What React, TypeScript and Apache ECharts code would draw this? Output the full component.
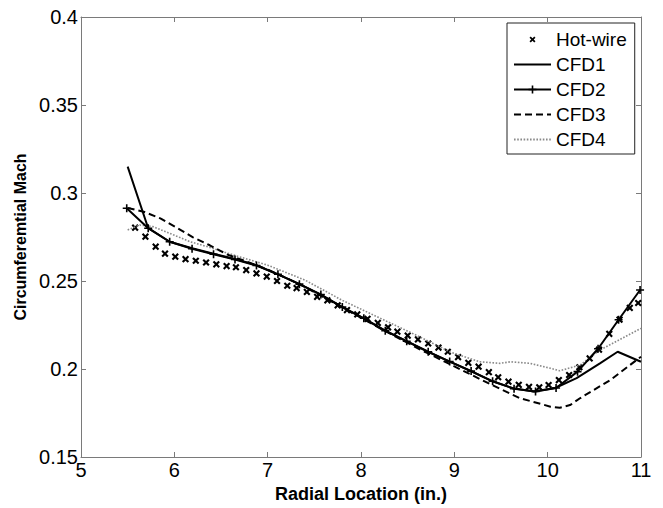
import React, { useEffect, useRef } from "react";
import * as echarts from "echarts";

const xTicks = [5, 6, 7, 8, 9, 10, 11];

const hotwireX = [5.58, 5.69, 5.8, 5.9, 6.01, 6.12, 6.23, 6.34, 6.45, 6.56, 6.66, 6.77, 6.88, 6.99, 7.1, 7.21, 7.31, 7.42, 7.53, 7.64, 7.75, 7.85, 7.96, 8.07, 8.18, 8.29, 8.39, 8.5, 8.61, 8.72, 8.83, 8.93, 9.04, 9.15, 9.26, 9.37, 9.47, 9.58, 9.69, 9.8, 9.91, 10.01, 10.12, 10.23, 10.34, 10.45, 10.55, 10.66, 10.77, 10.88, 10.97];
const hotwireY = [0.2803, 0.2752, 0.2695, 0.2655, 0.2638, 0.2624, 0.2615, 0.2605, 0.2595, 0.2585, 0.2578, 0.2562, 0.2543, 0.2525, 0.25, 0.2473, 0.246, 0.2438, 0.241, 0.239, 0.2362, 0.2335, 0.231, 0.2285, 0.2262, 0.2237, 0.2212, 0.219, 0.2168, 0.2145, 0.2122, 0.2098, 0.2068, 0.2035, 0.2013, 0.1982, 0.1953, 0.1928, 0.191, 0.1898, 0.1896, 0.1909, 0.1937, 0.1966, 0.201, 0.206, 0.211, 0.22, 0.228, 0.2347, 0.2375];

const cfd1X = [5.5, 5.72, 5.95, 6.19, 6.42, 6.65, 6.88, 7.1, 7.33, 7.56, 7.79, 8.02, 8.25, 8.48, 8.71, 8.94, 9.17, 9.4, 9.63, 9.85, 10.08, 10.31, 10.56, 10.75, 11.0];
const cfd1Y = [0.315, 0.28, 0.2723, 0.2686, 0.2655, 0.2625, 0.259, 0.254, 0.2485, 0.2425, 0.2355, 0.229, 0.222, 0.216, 0.21, 0.2045, 0.199, 0.1932, 0.189, 0.1872, 0.1892, 0.1948, 0.2032, 0.2098, 0.2041];

const cfd2X = [5.49, 5.72, 5.95, 6.19, 6.42, 6.65, 6.88, 7.11, 7.34, 7.57, 7.8, 8.03, 8.26, 8.49, 8.72, 8.95, 9.18, 9.41, 9.64, 9.87, 10.09, 10.32, 10.54, 10.76, 10.99];
const cfd2Y = [0.2913, 0.28, 0.2723, 0.2683, 0.2652, 0.2622, 0.2588, 0.2538, 0.2482, 0.2423, 0.2352, 0.2288, 0.2218, 0.2158, 0.2098, 0.2042, 0.1988, 0.193, 0.1888, 0.1872, 0.1892, 0.1985, 0.2115, 0.228, 0.2449];

const cfd3X = [5.5, 5.67, 5.85, 6.02, 6.2, 6.38, 6.56, 6.8, 7.0, 7.35, 7.8, 8.2, 8.63, 9.0, 9.38, 9.7, 10.03, 10.13, 10.24, 10.35, 10.67, 11.0];
const cfd3Y = [0.2915, 0.2894, 0.2856, 0.2805, 0.2748, 0.2703, 0.2652, 0.2605, 0.2565, 0.248, 0.235, 0.2232, 0.2112, 0.2015, 0.1915, 0.1835, 0.1786, 0.178, 0.1795, 0.1835, 0.1937, 0.207];

const cfd4X = [5.5, 5.63, 5.77, 5.95, 6.17, 6.38, 6.63, 7.0, 7.4, 7.8, 8.2, 8.6, 8.95, 9.27, 9.49, 9.6, 9.81, 10.03, 10.13, 10.35, 10.56, 11.0];
const cfd4Y = [0.279, 0.2818, 0.2809, 0.2771, 0.2723, 0.2691, 0.2648, 0.259, 0.2505, 0.239, 0.229, 0.219, 0.2098, 0.2041, 0.2032, 0.2041, 0.2032, 0.2004, 0.199, 0.2023, 0.2108, 0.2231];

const zip = (xs: number[], ys: number[]) => xs.map((x, i) => [x, ys[i]]);

const X_SYMBOL =
  "path://M-10,-10 L-10,-10 Z M10,10 L10,10 Z M-6,-3.5 L-3.5,-6 L0,-2.5 L3.5,-6 L6,-3.5 L2.5,0 L6,3.5 L3.5,6 L0,2.5 L-3.5,6 L-6,3.5 L-2.5,0 Z";
const PLUS_SYMBOL =
  "path://M-1,-5 L1,-5 L1,-1 L5,-1 L5,1 L1,1 L1,5 L-1,5 L-1,1 L-5,1 L-5,-1 L-1,-1 Z";

const FONT = "'Liberation Sans', Arial, Helvetica, sans-serif";
const AXIS_GRAY = "#7a7a7a";

export default function App() {
  const ref = useRef<HTMLDivElement>(null);
  useEffect(() => {
    if (!ref.current) return;
    const chart = echarts.init(ref.current, null, { renderer: "svg" });
    const hidden = { color: "rgba(0,0,0,0)", opacity: 0 };
    chart.setOption({
      animation: false,
      backgroundColor: "#fff",
      textStyle: { fontFamily: FONT },
      grid: { left: 81, right: 22, top: 17, bottom: 51 },
      legend: {
        orient: "vertical",
        left: 507,
        top: 23,
        align: "left",
        itemWidth: 37,
        itemHeight: 10,
        itemGap: 6,
        padding: [7, 8, 5, 6],
        borderColor: "#222",
        borderWidth: 1,
        backgroundColor: "#fff",
        symbolKeepAspect: true,
        textStyle: { fontSize: 19, color: "#000", fontFamily: FONT, lineHeight: 19 },
        data: [
          { name: "Hot-wire" },
          { name: "CFD1", itemStyle: hidden },
          { name: "CFD2" },
          { name: "CFD3", itemStyle: hidden },
          { name: "CFD4", itemStyle: hidden },
        ],
      },
      xAxis: [
        {
          type: "value",
          min: xTicks[0],
          max: xTicks[xTicks.length - 1],
          interval: 1,
          name: "Radial Location (in.)",
          nameLocation: "middle",
          nameGap: 27,
          nameTextStyle: { fontSize: 18, fontWeight: "bold", color: "#000", fontFamily: FONT },
          axisLine: { show: true, onZero: false, lineStyle: { color: AXIS_GRAY, width: 1 } },
          axisTick: { show: true, inside: true, length: 5, lineStyle: { color: AXIS_GRAY } },
          axisLabel: { fontSize: 20, color: "#000", margin: 3, fontFamily: FONT },
          splitLine: { show: false },
        },
        {
          type: "value",
          position: "top",
          min: xTicks[0],
          max: xTicks[xTicks.length - 1],
          interval: 1,
          axisLine: { show: true, onZero: false, lineStyle: { color: AXIS_GRAY, width: 1 } },
          axisTick: { show: true, inside: true, length: 5, lineStyle: { color: AXIS_GRAY } },
          axisLabel: { show: false },
          splitLine: { show: false },
        },
      ],
      yAxis: [
        {
          type: "value",
          min: 0.15,
          max: 0.4,
          interval: 0.05,
          name: "Circumferemtial Mach",
          nameLocation: "middle",
          nameGap: 52,
          nameTextStyle: { fontSize: 16, fontWeight: "bold", color: "#000", fontFamily: FONT },
          axisLine: { show: true, onZero: false, lineStyle: { color: AXIS_GRAY, width: 1 } },
          axisTick: { show: true, inside: true, length: 5, lineStyle: { color: AXIS_GRAY } },
          axisLabel: { fontSize: 20, color: "#000", margin: 3, fontFamily: FONT },
          splitLine: { show: false },
        },
        {
          type: "value",
          position: "right",
          min: 0.15,
          max: 0.4,
          interval: 0.05,
          axisLine: { show: true, onZero: false, lineStyle: { color: AXIS_GRAY, width: 1 } },
          axisTick: { show: true, inside: true, length: 5, lineStyle: { color: AXIS_GRAY } },
          axisLabel: { show: false },
          splitLine: { show: false },
        },
      ],
      series: [
        {
          name: "CFD4",
          type: "line",
          data: zip(cfd4X, cfd4Y),
          symbol: "none",
          color: "#8a8a8a",
          lineStyle: { color: "#8a8a8a", width: 1.6, type: [1.6, 1.6] },
        },
        {
          name: "CFD3",
          type: "line",
          data: zip(cfd3X, cfd3Y),
          symbol: "none",
          color: "#000",
          lineStyle: { color: "#000", width: 2, type: [7, 4] },
        },
        {
          name: "CFD1",
          type: "line",
          data: zip(cfd1X, cfd1Y),
          symbol: "none",
          color: "#000",
          lineStyle: { color: "#000", width: 2 },
        },
        {
          name: "CFD2",
          type: "line",
          data: zip(cfd2X, cfd2Y),
          symbol: PLUS_SYMBOL,
          symbolSize: 8,
          showAllSymbol: true,
          color: "#000",
          itemStyle: { color: "#000", opacity: 1 },
          lineStyle: { color: "#000", width: 2 },
        },
        {
          name: "Hot-wire",
          type: "scatter",
          data: zip(hotwireX, hotwireY),
          symbol: X_SYMBOL,
          symbolSize: 12,
          symbolKeepAspect: true,
          color: "#000",
          itemStyle: { color: "#000", opacity: 1 },
        },
      ],
    });
    return () => chart.dispose();
  }, []);
  return (
    <div
      ref={ref}
      style={{ position: "fixed", left: 0, top: 0, width: 663, height: 508, background: "#fff" }}
    />
  );
}
